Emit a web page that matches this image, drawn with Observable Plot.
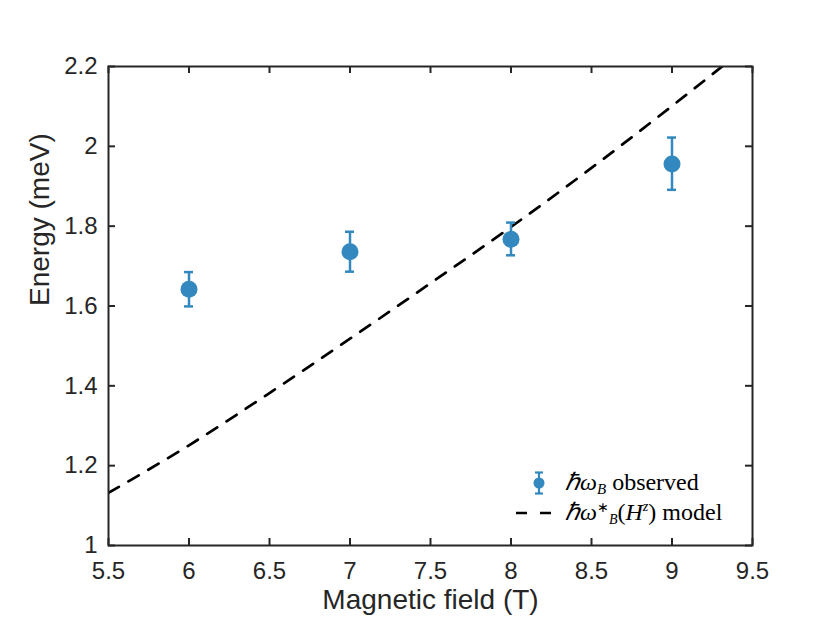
<!DOCTYPE html>
<html>
<head>
<meta charset="utf-8">
<script src="https://cdn.jsdelivr.net/npm/d3@7"></script>
<script src="https://cdn.jsdelivr.net/npm/@observablehq/plot@0.6"></script>
<style>
  html, body { margin: 0; padding: 0; background: white; }
</style>
</head>
<body>
<div id="chart"></div>
<script>
const xTicks = [5.5, 6, 6.5, 7, 7.5, 8, 8.5, 9, 9.5];
const yTicks = [1, 1.2, 1.4, 1.6, 1.8, 2, 2.2];

const field = [6, 7, 8, 9];
const energy = [1.642, 1.736, 1.767, 1.956];
const errLow = [1.599, 1.686, 1.727, 1.891];
const errHigh = [1.685, 1.786, 1.809, 2.022];

const modelField = [5.5, 6, 6.5, 7, 7.5, 8, 8.5, 9, 9.5];
const modelEnergy = [1.132, 1.251, 1.382, 1.518, 1.657, 1.798, 1.946, 2.101, 2.261];

const obs = field.map((f, i) => ({x: f, y: energy[i], lo: errLow[i], hi: errHigh[i]}));
const model = modelField.map((f, i) => ({x: f, y: modelEnergy[i]}));

const W = 830, H = 623, mL = 108, mR = 78, mT = 66, mB = 78;
const plotH = H - mT - mB, plotW = W - mL - mR;
const blue = "#3288bf";
const axisColor = "#262626";
const tickLen = 7;

const svg = Plot.plot({
  width: W, height: H,
  marginLeft: mL, marginRight: mR, marginTop: mT, marginBottom: mB,
  x: {domain: [5.5, 9.5], label: null},
  y: {domain: [1, 2.2], label: null},
  style: {fontFamily: "'Liberation Sans', Arial, Helvetica, sans-serif", color: axisColor, background: "white"},
  marks: [
    Plot.line(model, {x: "x", y: "y", stroke: "black", strokeWidth: 2.7, strokeDasharray: "12,11", clip: true, curve: "monotone-x"}),
    Plot.ruleX(obs, {x: "x", y1: "lo", y2: "hi", stroke: blue, strokeWidth: 2.5}),
    Plot.ruleY(obs, {y: "hi", x1: "x", x2: "x", insetLeft: -4.5, insetRight: -4.5, stroke: blue, strokeWidth: 2.5}),
    Plot.ruleY(obs, {y: "lo", x1: "x", x2: "x", insetLeft: -4.5, insetRight: -4.5, stroke: blue, strokeWidth: 2.5}),
    Plot.dot(obs, {x: "x", y: "y", r: 8.5, fill: blue, stroke: "none"}),
    // inward ticks on all four sides
    Plot.ruleX(xTicks, {x: d => d, insetTop: plotH - tickLen, stroke: axisColor, strokeWidth: 2}),
    Plot.ruleX(xTicks, {x: d => d, insetBottom: plotH - tickLen, stroke: axisColor, strokeWidth: 2}),
    Plot.ruleY(yTicks, {y: d => d, insetRight: plotW - tickLen, stroke: axisColor, strokeWidth: 2}),
    Plot.ruleY(yTicks, {y: d => d, insetLeft: plotW - tickLen, stroke: axisColor, strokeWidth: 2}),
    Plot.frame({stroke: axisColor, strokeWidth: 2}),
    Plot.axisX(xTicks, {tickSize: 0, tickPadding: 16, fontSize: 24, tickFormat: d => String(d), label: null}),
    Plot.axisY(yTicks, {tickSize: 0, tickPadding: 11, fontSize: 24, tickFormat: d => String(d), label: null}),
    Plot.text(["Magnetic field (T)"], {text: d => d, frameAnchor: "bottom", dy: 63, fontSize: 28, fill: axisColor}),
    Plot.text(["Energy (meV)"], {text: d => d, frameAnchor: "left", rotate: -90, dx: -68, fontSize: 28, fill: axisColor})
  ]
});

document.getElementById("chart").appendChild(svg);

// Legend (inside the axes, lower right)
const s = d3.select(svg);
const lg = s.append("g").attr("class", "legend").style("text-anchor", "start");
const lx = 539, ly1 = 483, ly2 = 513;
lg.append("line").attr("x1", lx).attr("x2", lx).attr("y1", ly1 - 10.5).attr("y2", ly1 + 10.5)
  .attr("stroke", blue).attr("stroke-width", 2.2);
lg.append("line").attr("x1", lx - 4).attr("x2", lx + 4).attr("y1", ly1 - 10.5).attr("y2", ly1 - 10.5)
  .attr("stroke", blue).attr("stroke-width", 2.2);
lg.append("line").attr("x1", lx - 4).attr("x2", lx + 4).attr("y1", ly1 + 10.5).attr("y2", ly1 + 10.5)
  .attr("stroke", blue).attr("stroke-width", 2.2);
lg.append("circle").attr("cx", lx).attr("cy", ly1).attr("r", 5.5).attr("fill", blue);
lg.append("line").attr("x1", 516).attr("x2", 552).attr("y1", ly2).attr("y2", ly2)
  .attr("stroke", "black").attr("stroke-width", 2.7).attr("stroke-dasharray", "11,13");

const serif = "'Liberation Serif', 'Times New Roman', serif";
function legendText(y) {
  return lg.append("text").attr("x", 565).attr("y", y)
    .style("font-family", serif).style("font-size", "24px").style("text-anchor", "start")
    .attr("fill", "black");
}
const t1 = legendText(490);
t1.append("tspan").style("font-style", "italic").text("ℏω");
t1.append("tspan").style("font-style", "italic").style("font-size", "15px").attr("dy", 4).text("B");
t1.append("tspan").attr("dy", -4).text(" observed");

const t2 = legendText(520);
t2.append("tspan").style("font-style", "italic").text("ℏω");
t2.append("tspan").style("font-size", "14px").attr("dy", -8).text("∗");
t2.append("tspan").style("font-style", "italic").style("font-size", "14px").attr("dy", 12).text("B");
t2.append("tspan").attr("dy", -4).text("(");
t2.append("tspan").style("font-style", "italic").text("H");
t2.append("tspan").style("font-style", "italic").style("font-size", "14px").attr("dy", -9).text("z");
t2.append("tspan").attr("dy", 9).text(") model");
</script>
</body>
</html>
